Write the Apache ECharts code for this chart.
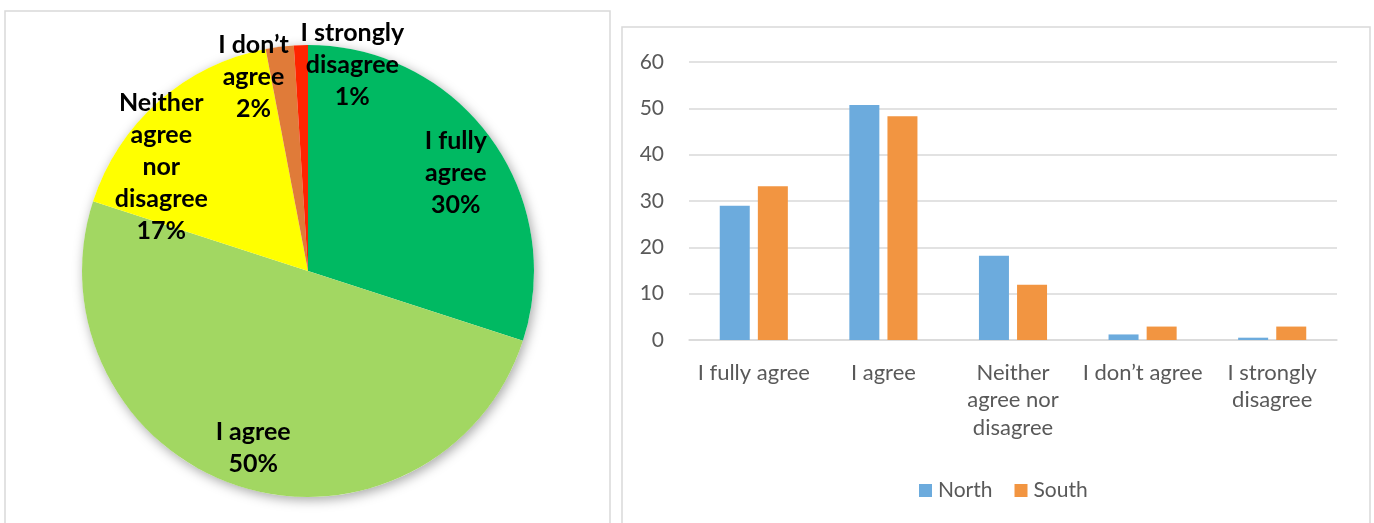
<!DOCTYPE html>
<html>
<head>
<meta charset="utf-8">
<script src="https://cdn.jsdelivr.net/npm/echarts@6/dist/echarts.min.js"></script>
<style>
  html, body { margin: 0; padding: 0; background: #ffffff; }
  #chart { width: 1374px; height: 523px; }
</style>
</head>
<body>
<div id="chart"></div>
<script>
// Answer categories, in survey order
const categories = ['I fully agree', 'I agree', 'Neither agree nor disagree', "I don\u2019t agree", 'I strongly disagree'];

// Overall share of answers (percent)
const pieValues = [30, 50, 17, 2, 1];

// Answers by region (percent)
const northValues = [29.0, 50.7, 18.2, 1.2, 0.5];
const southValues = [33.2, 48.3, 11.9, 2.9, 2.9];
const seriesNames = ['North', 'South'];

// Wrapped text used on the pie labels and the category axis
const pieLabelText = ['I fully\nagree', 'I agree', 'Neither\nagree\nnor\ndisagree', "I don\u2019t\nagree", 'I strongly\ndisagree'];
const axisTickLabels = ['I fully agree', 'I agree', 'Neither\nagree nor\ndisagree', "I don\u2019t agree", 'I strongly\ndisagree'];

// Value axis ticks
const yTicks = [0, 10, 20, 30, 40, 50, 60];

// Colours and per-slice label nudges (style, not data)
const pieColors = ['#00B962', '#A2D762', '#FFFF00', '#E07B39', '#FF2400'];
const pieLabelNudge = [[54, -30], [-19, 67], [-70, -17], [-40, -79], [48, -90]];
const barColors = ['#6CABDD', '#F29541'];

const FONT = 'Lato, "Open Sans", sans-serif';
const PIE_CENTER = [308, 271];
const PIE_R = 226;

const chart = echarts.init(document.getElementById('chart'), null, { renderer: 'canvas' });

const option = {
  animation: false,
  backgroundColor: '#ffffff',
  graphic: [
    { type: 'rect', shape: { x: 5, y: 11, width: 605, height: 560 }, style: { fill: 'none', stroke: '#d9d9d9', lineWidth: 1.5 }, silent: true, z: -10 },
    { type: 'rect', shape: { x: 622, y: 27, width: 748, height: 560 }, style: { fill: 'none', stroke: '#d9d9d9', lineWidth: 1.5 }, silent: true, z: -10 }
  ],
  grid: { left: 689, right: 37, top: 62, bottom: 183, containLabel: false },
  legend: {
    data: seriesNames,
    left: 914, top: 475,
    itemWidth: 13, itemHeight: 13, itemGap: 22,
    icon: 'rect',
    textStyle: { fontFamily: FONT, fontSize: 21, color: '#595959', padding: [0, 0, 0, 1] }
  },
  xAxis: {
    type: 'category',
    data: categories,
    axisLine: { lineStyle: { color: '#d9d9d9', width: 1.5 } },
    axisTick: { show: false },
    axisLabel: {
      interval: 0,
      margin: 19,
      fontFamily: FONT, fontSize: 22, color: '#595959', lineHeight: 27.5,
      formatter: function (v, i) { return axisTickLabels[i]; }
    }
  },
  yAxis: {
    type: 'value',
    min: yTicks[0], max: yTicks[yTicks.length - 1], interval: 10,
    axisLine: { show: false },
    axisTick: { show: false },
    splitLine: { lineStyle: { color: '#d9d9d9', width: 1.5 } },
    axisLabel: { margin: 25, fontFamily: FONT, fontSize: 21, color: '#595959' }
  },
  series: [
    // Soft shadow disc under the pie
    {
      type: 'pie', silent: true, center: PIE_CENTER, radius: PIE_R,
      data: [{ value: 1, name: '' }],
      label: { show: false }, labelLine: { show: false },
      itemStyle: { color: '#ffffff', shadowBlur: 12, shadowOffsetX: 2, shadowOffsetY: 3, shadowColor: 'rgba(0,0,0,0.35)' },
      z: 1, legendHoverLink: false
    },
    {
      type: 'pie',
      center: PIE_CENTER, radius: PIE_R,
      startAngle: 90, clockwise: true,
      percentPrecision: 0,
      data: categories.map(function (c, i) {
        return {
          name: c, value: pieValues[i],
          itemStyle: { color: pieColors[i] },
          label: { offset: pieLabelNudge[i] }
        };
      }),
      label: {
        show: true, position: 'inside',
        fontFamily: FONT, fontWeight: 'bold', fontSize: 25, lineHeight: 32, color: '#000000',
        align: 'center', verticalAlign: 'middle',
        formatter: function (p) { return pieLabelText[p.dataIndex] + '\n' + p.percent + '%'; }
      },
      labelLine: { show: false },
      itemStyle: { borderWidth: 0 },
      z: 2
    },
    {
      name: seriesNames[0], type: 'bar', data: northValues,
      barWidth: 30, barGap: '27%',
      itemStyle: { color: barColors[0] }
    },
    {
      name: seriesNames[1], type: 'bar', data: southValues,
      barWidth: 30, barGap: '27%',
      itemStyle: { color: barColors[1] }
    }
  ]
};

chart.setOption(option);
</script>
</body>
</html>
